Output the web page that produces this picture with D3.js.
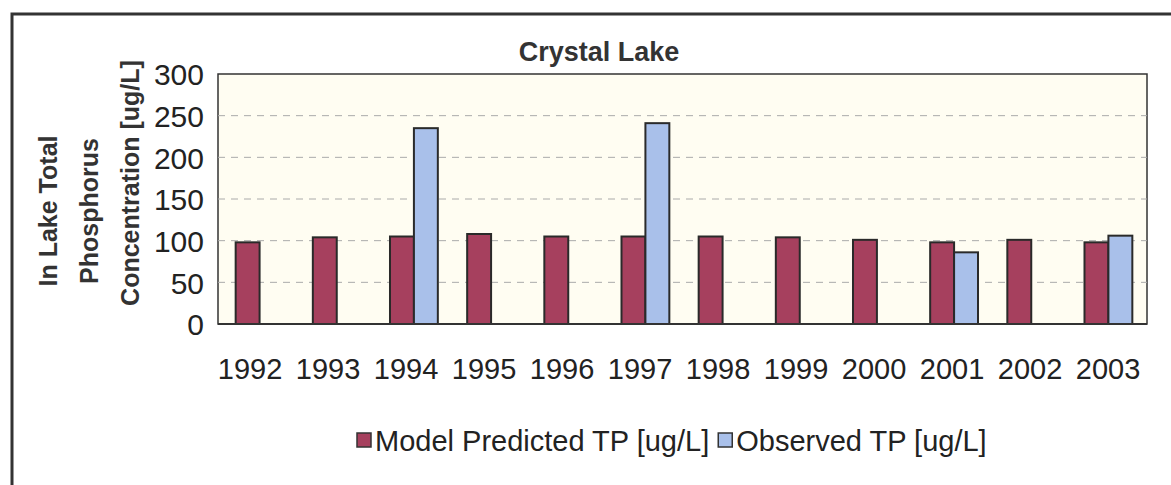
<!DOCTYPE html>
<html><head><meta charset="utf-8">
<script src="https://cdn.jsdelivr.net/npm/d3@7"></script>
<style>body{margin:0;background:#fff}svg{display:block}text{font-family:"Liberation Sans",Arial,sans-serif}</style>
</head><body>
<script>
const years = ["1992","1993","1994","1995","1996","1997","1998","1999","2000","2001","2002","2003"];
const modelTP = [98, 104, 105, 108, 105, 105, 105, 104, 101, 98, 101, 98];
const observedTP = [0, 0, 235, 0, 0, 241, 0, 0, 0, 86, 0, 106];
const seriesNames = ["Model Predicted TP [ug/L]", "Observed TP [ug/L]"];
const seriesColors = ["#a6405e", "#a9c0ea"];
const yTicks = [0, 50, 100, 150, 200, 250, 300];

const W = 1171, H = 485;
const svg = d3.select("body").append("svg").attr("width", W).attr("height", H);
svg.append("rect").attr("width", W).attr("height", H).attr("fill", "#fff");

// outer frame
svg.append("path").attr("d", `M12,${H} L12,14 L${W},14`).attr("fill","none").attr("stroke","#333").attr("stroke-width",3);

const L = 218, R = 1147, T = 74, B = 324;
const x = d3.scaleBand().domain(years).range([L + 3, R]).paddingInner(0.38).paddingOuter(0.19);
const xs = d3.scaleBand().domain([0,1]).range([0, x.bandwidth()]);
const xLab = d3.scalePoint().domain(years).range([249.5, 1107.5]);
const y = d3.scaleLinear().domain([0, 300]).range([B, T]);

svg.append("rect").attr("x", L).attr("y", T).attr("width", R-L).attr("height", B-T)
  .attr("fill", "#fffdf2").attr("stroke", "#333").attr("stroke-width", 1.5);

svg.append("g").selectAll("line").data(yTicks.filter(d => d > 0 && d < 300)).join("line")
  .attr("x1", L).attr("x2", R).attr("y1", d => y(d)).attr("y2", d => y(d))
  .attr("stroke", "#aaa").attr("stroke-width", 1).attr("stroke-dasharray", "7,6");

const yAxis = svg.append("g").attr("transform", `translate(${L-14},0)`)
  .call(d3.axisLeft(y).tickValues(yTicks).tickSize(0).tickPadding(0));
yAxis.select(".domain").remove();
yAxis.selectAll("text").attr("font-size", 30).attr("fill", "#222").attr("dy", "0.36em");

const data = years.map((yr, i) => ({yr, vals: [modelTP[i], observedTP[i]]}));
const g = svg.append("g");
data.forEach(d => {
  d.vals.forEach((v, s) => {
    g.append("rect")
      .attr("x", x(d.yr) + xs(s)).attr("y", y(v))
      .attr("width", xs.bandwidth()).attr("height", y(0) - y(v))
      .attr("fill", seriesColors[s]).attr("stroke", "#2a2a2a").attr("stroke-width", 2);
  });
});
svg.append("line").attr("x1", L).attr("x2", R).attr("y1", B).attr("y2", B).attr("stroke","#333").attr("stroke-width",2);

const xAxis = svg.append("g").attr("transform", `translate(0,${B})`)
  .call(d3.axisBottom(xLab).tickSize(0).tickPadding(34));
xAxis.select(".domain").remove();
xAxis.selectAll("text").attr("font-size", 29).attr("fill", "#222");

svg.append("text").attr("x", 599).attr("y", 61).attr("text-anchor", "middle")
  .attr("font-size", 27).attr("font-weight", "bold").attr("fill", "#333").text("Crystal Lake");

const ylab = ["In Lake Total", "Phosphorus", "Concentration [ug/L]"];
const ylabX = [48, 89, 130];
const ylabY = [211, 211, 183];
ylab.forEach((t, i) => {
  svg.append("text").attr("transform", `translate(${ylabX[i]},${ylabY[i]}) rotate(-90)`)
    .attr("text-anchor", "middle").attr("dy", "0.35em").attr("font-size", 25).attr("font-weight", "bold").attr("fill", "#333").text(t);
});

// legend
const lg = svg.append("g").attr("transform", "translate(357,441)");
let lx = 0;
seriesNames.forEach((n, i) => {
  lg.append("rect").attr("x", lx).attr("y", -8).attr("width", 14).attr("height", 14)
    .attr("fill", seriesColors[i]).attr("stroke", "#333").attr("stroke-width", 1.5);
  const t = lg.append("text").attr("x", lx + 18).attr("y", 0).attr("dy", "0.35em")
    .attr("font-size", 29).attr("fill", "#222").text(n);
  lx += 18 + t.node().getComputedTextLength() + 9;
});
</script>
</body></html>
